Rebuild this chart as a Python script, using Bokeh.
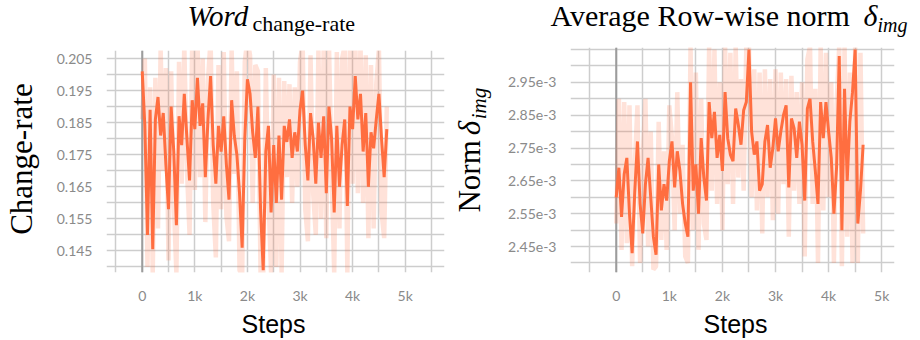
import math
from bokeh.plotting import figure
from bokeh.layouts import row, column
from bokeh.models import FixedTicker, Span
from bokeh.core.properties import value
from bokeh.embed import file_html
from bokeh.resources import INLINE

# ---------------- data ----------------
steps = list(range(0, 4651, 50))

change_rate_smooth = [
    0.201, 0.184, 0.150, 0.189, 0.1455, 0.186, 0.193, 0.181, 0.188, 0.172,
    0.158, 0.190, 0.176, 0.153, 0.187, 0.178, 0.194, 0.180, 0.167, 0.192,
    0.183, 0.199, 0.184, 0.191, 0.168, 0.186, 0.1995, 0.178, 0.166, 0.184,
    0.176, 0.187, 0.172, 0.161, 0.192, 0.181, 0.175, 0.163, 0.146, 0.180,
    0.1985, 0.194, 0.182, 0.174, 0.190, 0.158, 0.139, 0.176, 0.184, 0.157,
    0.178, 0.160, 0.181, 0.161, 0.184, 0.179, 0.186, 0.174, 0.182, 0.176,
    0.189, 0.195, 0.178, 0.167, 0.188, 0.180, 0.166, 0.185, 0.174, 0.187,
    0.163, 0.190, 0.180, 0.157, 0.184, 0.165, 0.178, 0.186, 0.159, 0.190,
    0.183, 0.1995, 0.186, 0.194, 0.176, 0.188, 0.165, 0.182, 0.177, 0.186,
    0.194, 0.180, 0.168, 0.183,
]

change_rate_raw = [
    0.186, 0.205, 0.140, 0.196, 0.138, 0.199, 0.152, 0.208, 0.170, 0.202,
    0.142, 0.201, 0.160, 0.138, 0.204, 0.166, 0.209, 0.171, 0.150, 0.210,
    0.164, 0.212, 0.168, 0.205, 0.154, 0.198, 0.211, 0.160, 0.143, 0.203,
    0.158, 0.207, 0.156, 0.148, 0.208, 0.169, 0.201, 0.139, 0.137, 0.204,
    0.211, 0.206, 0.160, 0.203, 0.201, 0.138, 0.136, 0.202, 0.162, 0.138,
    0.200, 0.140, 0.199, 0.138, 0.198, 0.168, 0.197, 0.160, 0.196, 0.165,
    0.204, 0.210, 0.158, 0.148, 0.206, 0.163, 0.150, 0.208, 0.155, 0.209,
    0.149, 0.210, 0.170, 0.138, 0.207, 0.152, 0.205, 0.209, 0.138, 0.211,
    0.166, 0.212, 0.163, 0.210, 0.160, 0.206, 0.149, 0.203, 0.152, 0.197,
    0.208, 0.157, 0.149, 0.190,
]

# values in units of 1e-3
norm_smooth_e3 = [
    2.60, 2.69, 2.54, 2.67, 2.72, 2.55, 2.43, 2.62, 2.77, 2.58,
    2.49, 2.64, 2.72, 2.60, 2.48, 2.425, 2.70, 2.56, 2.64, 2.59,
    2.71, 2.77, 2.63, 2.74, 2.68, 2.58, 2.52, 2.48, 2.95, 2.62,
    2.70, 2.55, 2.78, 2.66, 2.59, 2.89, 2.78, 2.86, 2.72, 2.79,
    2.68, 2.92, 2.78, 2.73, 2.71, 2.87, 2.82, 2.76, 2.865, 2.89,
    3.05, 2.80, 2.73, 2.77, 2.62, 2.64, 2.77, 2.82, 2.69, 2.75,
    2.84, 2.74, 2.80, 2.85, 2.88, 2.63, 2.84, 2.81, 2.72, 2.83,
    2.76, 2.59, 2.87, 2.90, 2.77, 2.68, 2.58, 2.89, 2.78, 2.89,
    2.80, 2.72, 2.55, 2.69, 3.03, 2.50, 2.93, 2.65, 2.83, 2.92,
    3.05, 2.52, 2.62, 2.76,
]

norm_raw_e3 = [
    2.52, 2.90, 2.44, 2.89, 2.46, 2.88, 2.39, 2.70, 2.88, 2.40,
    2.72, 2.90, 2.45, 2.80, 2.38, 2.39, 2.83, 2.47, 2.74, 2.44,
    2.88, 2.78, 2.50, 2.92, 2.55, 2.76, 2.42, 2.40, 3.06, 2.50,
    2.98, 2.44, 2.90, 2.52, 2.47, 3.06, 2.62, 3.05, 2.58, 2.95,
    2.50, 3.06, 2.64, 3.04, 2.58, 3.06, 2.66, 2.96, 2.62, 3.06,
    3.06, 2.60, 2.99, 2.56, 2.98, 2.49, 2.99, 2.60, 2.96, 2.53,
    2.99, 2.55, 2.98, 2.64, 2.96, 2.48, 2.97, 2.62, 2.92, 2.58,
    2.95, 2.42, 3.02, 3.06, 2.58, 2.93, 2.40, 3.06, 2.56, 3.04,
    2.60, 2.95, 2.40, 2.88, 3.06, 2.39, 3.06, 2.48, 2.98, 2.40,
    3.06, 2.40, 3.04, 2.49,
]
norm_smooth = [v * 1e-3 for v in norm_smooth_e3]
norm_raw = [v * 1e-3 for v in norm_raw_e3]

x_ticks = [0, 1000, 2000, 3000, 4000, 5000]
x_tick_labels = ["0", "1k", "2k", "3k", "4k", "5k"]
left_y_ticks = [0.145, 0.155, 0.165, 0.175, 0.185, 0.195, 0.205]
left_y_labels = ["0.145", "0.155", "0.165", "0.175", "0.185", "0.195", "0.205"]
right_y_ticks_e3 = [2.45, 2.55, 2.65, 2.75, 2.85, 2.95]
right_y_labels = ["2.45e-3", "2.55e-3", "2.65e-3", "2.75e-3", "2.85e-3", "2.95e-3"]

# ---------------- style ----------------
LINE = "#ff6e40"
GRID = "#cdcdcd"
TICK_FONT = "Lato"
TICK_COLOR = "#8a8a8a"
SERIF = "Liberation Serif"
SANS = "Liberation Sans"

TOP_H = 44      # title strip height
MAIN_H = 262    # plot strip height
BOT_H = 340 - TOP_H - MAIN_H
BSHIFT = 0.36   # renderer places text ~0.36em lower than the anchor


def text_fig(w, h):
    p = figure(width=w, height=h, x_range=(0, w), y_range=(0, h),
               output_backend="svg", toolbar_location=None, title=None,
               x_axis_type=None, y_axis_type=None,
               min_border_left=0, min_border_right=0,
               min_border_top=0, min_border_bottom=0)
    p.outline_line_color = None
    p.background_fill_color = "white"
    p.border_fill_color = "white"
    return p


def put_text(p, x, baseline_from_top, h, text, font, size, style="normal",
             align="left"):
    """Horizontal text with its baseline at the given pixel row."""
    y_top = baseline_from_top - BSHIFT * size
    p.text(x=[x], y=[h - y_top], text=[text], text_font=value(font),
           text_font_size=value(f"{size}px"), text_font_style=style,
           text_align=align, text_baseline="alphabetic", text_color="black")


def put_vtext(p, baseline_x, y_from_top, h, text, font, size, style="normal",
              align="left"):
    """Text rotated 90 deg (reading upward) with baseline at given column."""
    x = baseline_x - BSHIFT * size
    y = y_from_top + BSHIFT * size
    p.text(x=[x], y=[h - y], text=[text], text_font=value(font),
           text_font_size=value(f"{size}px"), text_font_style=style,
           text_align=align, text_baseline="alphabetic", angle=math.pi / 2,
           text_color="black")


def main_fig(width, fl, fr, ft, fb, xr, yr, xgrid_ticks, ygrid_ticks, yt, ylabels):
    p = figure(width=width, height=MAIN_H, x_range=xr, y_range=yr,
               output_backend="svg", toolbar_location=None, title=None,
               min_border_left=fl, min_border_right=width - fr,
               min_border_top=ft, min_border_bottom=MAIN_H - fb)
    p.outline_line_color = None
    p.background_fill_color = "white"
    p.border_fill_color = "white"
    for ax in (p.xaxis[0], p.yaxis[0]):
        ax.axis_line_color = None
        ax.major_tick_line_color = None
        ax.minor_tick_line_color = None
        ax.major_label_text_font = TICK_FONT
        ax.major_label_text_font_size = "14px"
        ax.major_label_text_color = TICK_COLOR
        ax.major_label_standoff = 8
    p.xaxis[0].ticker = FixedTicker(ticks=x_ticks)
    p.xaxis[0].major_label_overrides = {t: l for t, l in zip(x_ticks, x_tick_labels)}
    p.yaxis[0].ticker = FixedTicker(ticks=yt)
    p.yaxis[0].major_label_overrides = {t: l for t, l in zip(yt, ylabels)}
    p.xgrid[0].ticker = FixedTicker(ticks=xgrid_ticks)
    p.ygrid[0].ticker = FixedTicker(ticks=ygrid_ticks)
    for g in (p.xgrid[0], p.ygrid[0]):
        g.grid_line_color = GRID
        g.grid_line_width = 1.5
    p.add_layout(Span(location=0, dimension="height", line_color="#9c9c9c",
                      line_width=2, level="underlay"))
    return p


# ---------------- left panel (x 0..450) ----------------
LW = 450
LYL_W = 40
lxr = (-679, 5747)
lyr = (0.13828, 0.2075)
# frame in absolute px: x 106..444, y 50..273
left = main_fig(LW - LYL_W, 106 - LYL_W, 444 - LYL_W, 50 - TOP_H, 273 - TOP_H, lxr, lyr,
                list(range(-500, 6001, 500)),
                [0.140, 0.145, 0.150, 0.155, 0.160, 0.165, 0.170, 0.175, 0.180,
                 0.185, 0.190, 0.195, 0.200, 0.205],
                left_y_ticks, left_y_labels)
left.line(steps, change_rate_raw, line_color=LINE, line_alpha=0.2, line_width=4.5)
left.line(steps, change_rate_smooth, line_color=LINE, line_width=3)

l_top = text_fig(LW, TOP_H)
put_text(l_top, 187, 26, TOP_H, "Word", SERIF, 29, style="italic")
put_text(l_top, 252, 31, TOP_H, "change-rate", SERIF, 22)

l_yl = text_fig(LYL_W, MAIN_H)
put_vtext(l_yl, 32, 161 - TOP_H, MAIN_H, "Change-rate", SERIF, 31, align="center")

l_bot = text_fig(LW, BOT_H)
put_text(l_bot, 273, 332 - TOP_H - MAIN_H, BOT_H, "Steps", SANS, 25, align="center")

left_panel = column(l_top, row(l_yl, left), l_bot)

# ---------------- right panel (x 450..920) ----------------
RW = 470
OX = 450
RYL_W = 45
rxr = (-861, 5241)
ryr = (2.371e-3, 3.056e-3)
# frame in absolute px: x 570..894, y 47..280
right = main_fig(RW - RYL_W, 570 - OX - RYL_W, 894 - OX - RYL_W, 47 - TOP_H, 280 - TOP_H,
                 rxr, ryr,
                 list(range(-500, 5501, 500)),
                 [v * 1e-3 for v in [2.40, 2.45, 2.50, 2.55, 2.60, 2.65, 2.70, 2.75,
                                     2.80, 2.85, 2.90, 2.95, 3.00, 3.05]],
                 [v * 1e-3 for v in right_y_ticks_e3], right_y_labels)
right.line(steps, norm_raw, line_color=LINE, line_alpha=0.2, line_width=4.5)
right.line(steps, norm_smooth, line_color=LINE, line_width=3)

r_top = text_fig(RW, TOP_H)
put_text(r_top, 100, 26, TOP_H, "Average Row-wise norm", SERIF, 30)
put_text(r_top, 413, 26, TOP_H, "δ", SERIF, 30, style="italic")
put_text(r_top, 427, 32, TOP_H, "img", SERIF, 20, style="italic")

r_yl = text_fig(RYL_W, MAIN_H)
put_vtext(r_yl, 30, 225 - TOP_H, MAIN_H, "Norm", SERIF, 31)
put_vtext(r_yl, 30, 135 - TOP_H, MAIN_H, "δ", SERIF, 31, style="italic")
put_vtext(r_yl, 36, 120 - TOP_H, MAIN_H, "img", SERIF, 21, style="italic")

r_bot = text_fig(RW, BOT_H)
put_text(r_bot, 285, 332 - TOP_H - MAIN_H, BOT_H, "Steps", SANS, 25, align="center")

right_panel = column(r_top, row(r_yl, right), r_bot)

layout = row(left_panel, right_panel)
open("out.html", "w").write(file_html(layout, INLINE))
